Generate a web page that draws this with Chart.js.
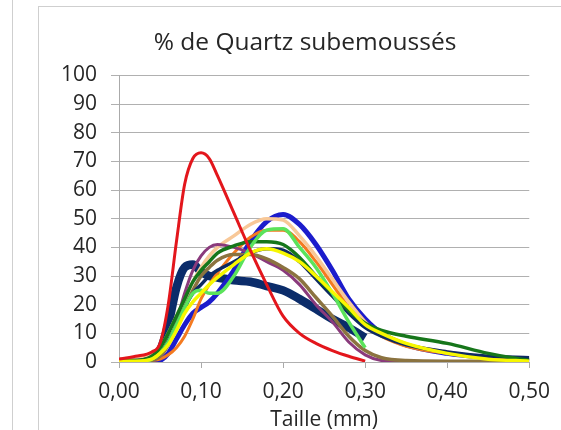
<!DOCTYPE html>
<html><head><meta charset="utf-8">
<script src="https://cdn.jsdelivr.net/npm/chart.js@4.4.1/dist/chart.umd.min.js"></script>
<style>
html,body{margin:0;padding:0;background:#fff;overflow:hidden}
#wrap{position:relative;width:561px;height:430px;overflow:hidden}
#frame{position:absolute;left:38px;top:6px;width:600px;height:500px;border:1px solid #cfcfcf}
#lline{position:absolute;left:12px;top:0;width:0;height:430px;border-left:1px solid #cfcfcf}
canvas{position:absolute;left:0;top:0}
</style></head>
<body><div id="wrap"><div id="lline"></div><div id="frame"></div><canvas id="c" width="561" height="430"></canvas></div>
<script>
const chartTitle = "% de Quartz subemoussés";
const xTitle = "Taille (mm)";
const sizes = [0, 0.02, 0.04, 0.05, 0.06, 0.07, 0.08, 0.09, 0.10, 0.11, 0.12, 0.14, 0.16, 0.18, 0.20, 0.22, 0.24, 0.26, 0.28, 0.30, 0.32, 0.35, 0.40, 0.45, 0.50];
const xTicks = [0, 0.1, 0.2, 0.3, 0.4, 0.5];
const yTicks = [0, 10, 20, 30, 40, 50, 60, 70, 80, 90, 100];

const sRed       = [1, 2, 3.5, 6.5, 20, 42, 62, 71, 73, 71, 65, 52, 39, 27, 16, 10, 6.5, 4, 2, 0.3, null, null, null, null, null];
const sYellow    = [0.3, 0.3, 1, 3, 6, 11, 17, 21, 24, 27, 29.5, 34, 38, 39.5, 38, 35, 30, 24.5, 19, 13, 10, 6.5, 3, 1, 0.3];
const sLightGreen= [0, 0, 1, 3, 7, 13, 19, 24, 25, 24, 24, 30, 40, 46, 46.5, 40, 33, 24, 14, 5, null, null, null, null, null];
const sDarkGreen = [0.5, 0.5, 2, 5, 10, 16, 22, 28, 32, 35, 38, 40.5, 42, 42, 41, 36.5, 30, 24, 18, 13.5, 11, 9, 6.5, 3, 0.5];
const sNavy      = [0.5, 0.5, 1, 3, 7, 13, 19, 24, 27, 30, 32, 35, 38, 39.5, 39, 35, 29, 23, 17, 12, 9, 6, 3.5, 2, 1.5];
const sBrown     = [0, 0, 0.5, 2, 6, 12, 19, 25, 30, 33, 35.5, 37.5, 37.5, 36, 33, 29, 22.5, 16, 9, 4, 1.5, 0.5, 0.3, 0.3, 1.5];
const sPurple    = [0, 0, 0.5, 2, 6, 14, 24, 32, 37, 40, 41, 40, 38, 35, 32, 27, 20, 14, 7, 2.5, 0.5, 0, null, null, null];
const sOrange    = [0, 0, 0.5, 1, 2.5, 5, 9, 15, 22, 27, 31, 38, 43.5, 46, 46, 42, 35, 27, 19, 13, 9, 5.5, 3, 1.5, 0.5];
const sPeach     = [1, 1.5, 3, 5, 10, 16, 22, 28, 33, 37, 40, 44, 48, 50, 49.5, 44, 37, 29, 21, 14, 9, 6, 3.5, 1.5, 0.5];
const sBlue      = [0, 0, 0, 0.5, 3, 8, 13, 17, 19, 21, 24, 32, 42, 49, 51.5, 48, 41, 32, 22, 15, 10, 6, 3, 1.5, 0.5];
const sNavyThick = [0, 0, 1, 4, 13, 26, 33, 34, 31.5, 30, 29.5, 28.5, 28, 26.5, 25, 22, 18.5, 15, 12, 8.5, null, null, null, null, null];

function pts(vals){ return sizes.map((x,i)=>({x:x, y:vals[i]})); }
function ds(vals, color, w){
  return {data: pts(vals), borderColor: color, borderWidth: w, pointRadius: 0, fill: false,
          cubicInterpolationMode: 'monotone', spanGaps: false};
}

const shiftTitle = {
  id: 'shiftTitle',
  afterLayout(chart){ const t = chart.titleBlock; if (t){ t.left += 9.5; t.right += 9.5; } }
};

const FONT = "'Open Sans', sans-serif";
const TXT = '#262626';
new Chart(document.getElementById('c'), {
  type: 'line',
  plugins: [shiftTitle],
  data: { datasets: [
    ds(sRed, '#e3161c', 3),
    ds(sYellow, '#f7f700', 3.5),
    ds(sLightGreen, '#5be35b', 3.5),
    ds(sDarkGreen, '#16761a', 3.5),
    ds(sNavy, '#0e2a62', 3.5),
    ds(sBrown, '#8b7340', 3.5),
    ds(sPurple, '#8a3a7c', 3),
    ds(sOrange, '#f47a20', 3),
    ds(sPeach, '#f8c898', 3.5),
    ds(sBlue, '#1c1ccc', 5),
    ds(sNavyThick, '#0b2c6a', 8.5)
  ]},
  options: {
    responsive: false, animation: false, devicePixelRatio: 1,
    layout: { padding: { left: 60, right: 30, top: 0, bottom: 0 } },
    plugins: {
      legend: { display: false },
      tooltip: { enabled: false },
      title: { display: true, text: chartTitle, color: TXT, font: { family: FONT, size: 24.5, weight: 'normal' },
               padding: { top: 28.5, bottom: 17.5 } }
    },
    scales: {
      x: { type: 'linear', min: 0, max: 0.5,
           afterBuildTicks: s => { s.ticks = xTicks.map(v => ({value: v})); },
           afterFit: s => { s.height = 68; },
           ticks: { color: TXT, font: { family: FONT, size: 21 }, padding: 11,
                    callback: v => Number(v).toFixed(2).replace('.', ',') },
           grid: { drawOnChartArea: false, drawTicks: true, tickLength: 6, color: '#aaa' },
           border: { display: false },
           title: { display: true, text: xTitle, color: TXT, font: { family: FONT, size: 21 }, padding: { top: 0, bottom: -3 } } },
      y: { min: 0, max: 100,
           afterBuildTicks: s => { s.ticks = yTicks.map(v => ({value: v})); },
           afterFit: s => { s.width = 59; },
           ticks: { color: TXT, font: { family: FONT, size: 21 }, padding: 14 },
           grid: { color: '#b0b0b0', tickLength: 8 },
           border: { display: true, color: '#aaa' } }
    }
  }
});
</script>
</body></html>
